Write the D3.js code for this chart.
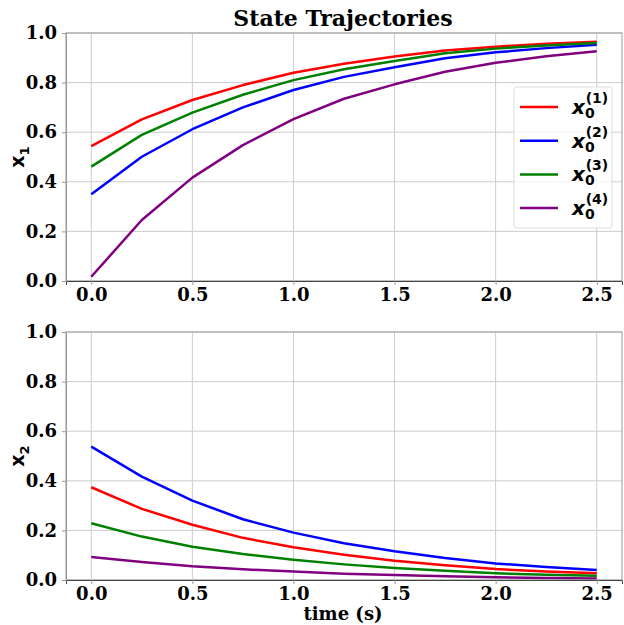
<!DOCTYPE html>
<html>
<head>
<meta charset="utf-8">
<script src="https://cdn.jsdelivr.net/npm/d3@7"></script>
<style>
  body { margin: 0; background: #fff; }
  svg text { font-family: "DejaVu Serif", serif; font-weight: bold; }
</style>
</head>
<body>
<svg id="chart" width="624" height="625"></svg>
<script>
"use strict";

// time samples (s)
const times = [0, 0.25, 0.5, 0.75, 1.0, 1.25, 1.5, 1.75, 2.0, 2.25, 2.5];

// x1 trajectories for each initial state
const x1Run1 = [0.544, 0.652, 0.730, 0.790, 0.840, 0.876, 0.905, 0.929, 0.945, 0.957, 0.965];
const x1Run2 = [0.350, 0.501, 0.612, 0.700, 0.770, 0.823, 0.862, 0.898, 0.922, 0.939, 0.953];
const x1Run3 = [0.461, 0.589, 0.679, 0.751, 0.810, 0.854, 0.887, 0.918, 0.937, 0.950, 0.960];
const x1Run4 = [0.017, 0.246, 0.417, 0.548, 0.653, 0.735, 0.793, 0.844, 0.880, 0.906, 0.926];

// x2 trajectories
const x2Run1 = [0.374, 0.287, 0.223, 0.170, 0.132, 0.102, 0.078, 0.059, 0.044, 0.034, 0.027];
const x2Run2 = [0.538, 0.417, 0.320, 0.245, 0.191, 0.148, 0.116, 0.089, 0.067, 0.052, 0.040];
const x2Run3 = [0.229, 0.175, 0.134, 0.105, 0.082, 0.063, 0.048, 0.037, 0.027, 0.021, 0.017];
const x2Run4 = [0.093, 0.073, 0.055, 0.043, 0.034, 0.025, 0.020, 0.015, 0.011, 0.008, 0.006];

const runNames = ["1", "2", "3", "4"];
const runColors = ["#ff0000", "#0000ff", "#008000", "#800080"];

const xTicks = [0, 0.5, 1.0, 1.5, 2.0, 2.5];
const yTicks = [0, 0.2, 0.4, 0.6, 0.8, 1.0];

const svg = d3.select("#chart");

// shared x scale (matplotlib default 5% margins)
const xScale = d3.scaleLinear().domain([-0.125, 2.625]).range([66, 622]);

function drawPanel(top, bottom, series, label) {
  const yScale = d3.scaleLinear().domain([0, 1]).range([bottom, top]);
  const g = svg.append("g");

  // grid
  g.append("g")
    .selectAll("line.vgrid")
    .data(xTicks)
    .enter()
    .append("line")
    .attr("x1", d => xScale(d)).attr("x2", d => xScale(d))
    .attr("y1", top).attr("y2", bottom)
    .attr("stroke", "#cccccc").attr("stroke-width", 1);
  g.append("g")
    .selectAll("line.hgrid")
    .data(yTicks)
    .enter()
    .append("line")
    .attr("x1", 66).attr("x2", 622)
    .attr("y1", d => yScale(d)).attr("y2", d => yScale(d))
    .attr("stroke", "#cccccc").attr("stroke-width", 1);

  // lines (straight segments between samples)
  const line = d3.line()
    .x((d, i) => xScale(times[i]))
    .y(d => yScale(d));
  series.forEach((s, i) => {
    g.append("path")
      .attr("d", line(s))
      .attr("fill", "none")
      .attr("stroke", runColors[i])
      .attr("stroke-width", 2.5)
      .attr("stroke-linejoin", "round");
  });

  // spines
  g.append("rect")
    .attr("x", 66).attr("y", top)
    .attr("width", 622 - 66).attr("height", bottom - top)
    .attr("fill", "none").attr("stroke", "#999999").attr("stroke-width", 1);

  // axes
  const xAxis = d3.axisBottom(xScale).tickValues(xTicks).tickSize(4).tickFormat(d3.format(".1f"));
  const gx = g.append("g").attr("transform", `translate(0,${bottom})`).call(xAxis);
  gx.select(".domain").attr("stroke", "#444444");
  gx.selectAll(".tick line").attr("stroke", "#999999");
  gx.selectAll("text").attr("font-size", 18).attr("fill", "#000");

  const yAxis = d3.axisLeft(yScale).tickValues(yTicks).tickSize(4).tickFormat(d3.format(".1f"));
  const gy = g.append("g").attr("transform", "translate(66,0)").call(yAxis);
  gy.select(".domain").attr("stroke", "#999999");
  gy.selectAll(".tick line").attr("stroke", "#999999");
  gy.selectAll("text").attr("font-size", 18).attr("fill", "#000").attr("x", -9);

  // y label
  const yl = g.append("text")
    .attr("transform", `translate(24,${(top + bottom) / 2}) rotate(-90)`)
    .attr("text-anchor", "middle")
    .style("font-family", "'DejaVu Sans', sans-serif")
    .attr("font-size", 19);
  yl.append("tspan").text("x");
  yl.append("tspan").attr("font-size", 13).attr("dy", 5).text(label);

  return g;
}

drawPanel(33, 281, [x1Run1, x1Run2, x1Run3, x1Run4], "1");
drawPanel(332, 580, [x2Run1, x2Run2, x2Run3, x2Run4], "2");

// title
svg.append("text")
  .attr("x", 343).attr("y", 26)
  .attr("text-anchor", "middle")
  .attr("font-size", 22)
  .text("State Trajectories");

// x label
svg.append("text")
  .attr("x", 343).attr("y", 620)
  .attr("text-anchor", "middle")
  .attr("font-size", 18)
  .text("time (s)");

// legend
const legend = svg.append("g").attr("transform", "translate(514,87)");
legend.append("rect")
  .attr("width", 98).attr("height", 141)
  .attr("rx", 3)
  .attr("fill", "rgba(255,255,255,0.8)")
  .attr("stroke", "#dddddd");
runNames.forEach((n, i) => {
  const y = 20 + i * 33.7;
  legend.append("line")
    .attr("x1", 6).attr("x2", 44)
    .attr("y1", y).attr("y2", y)
    .attr("stroke", runColors[i]).attr("stroke-width", 2.5);
  const t = legend.append("text")
    .attr("x", 58).attr("y", y + 7)
    .style("font-family", "'DejaVu Sans', sans-serif")
    .style("font-style", "italic")
    .attr("font-size", 20);
  t.append("tspan").text("x");
  t.append("tspan").attr("font-size", 14).attr("dy", 4).style("font-style", "normal").text("0");
  t.append("tspan").attr("font-size", 14).attr("dx", -9).attr("dy", -15).style("font-style", "normal").text(`(${n})`);
});
</script>
</body>
</html>
